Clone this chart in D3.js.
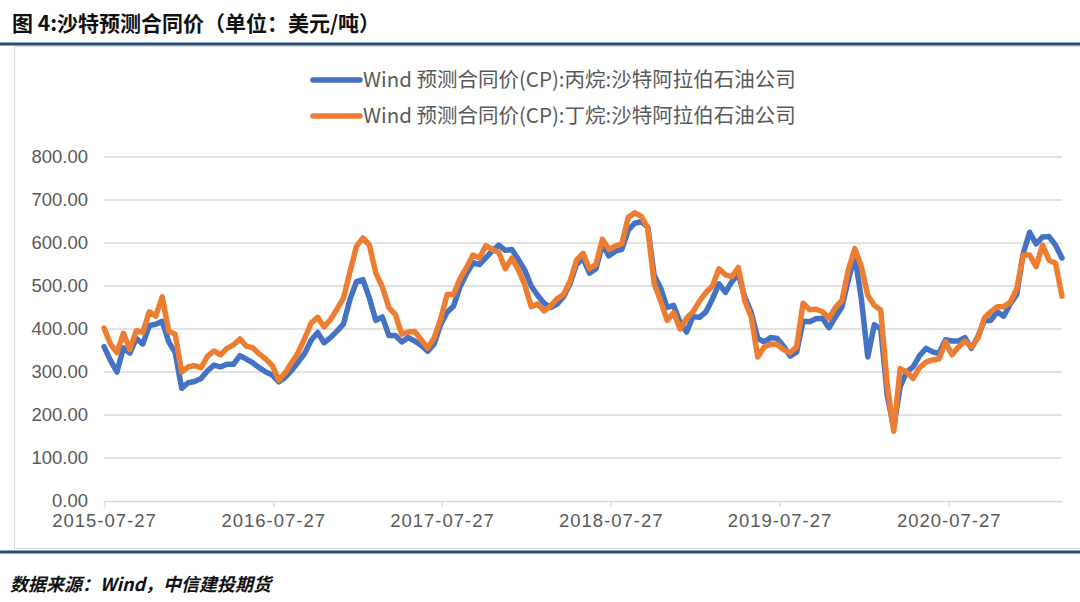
<!DOCTYPE html>
<html>
<head>
<meta charset="utf-8">
<script src="https://cdn.jsdelivr.net/npm/d3@7"></script>
<style>
  body { margin: 0; background: #fff; }
  svg { display: block; font-family: "Noto Sans CJK SC", "Noto Sans", sans-serif; }
</style>
</head>
<body>
<svg id="canvas"></svg>
<script>
const WIDTH = 1080;
const HEIGHT = 602;

const title = "图 4:沙特预测合同价（单位：美元/吨）";
const source = "数据来源：Wind，中信建投期货";
const seriesNames = [
  "Wind 预测合同价(CP):丙烷:沙特阿拉伯石油公司",
  "Wind 预测合同价(CP):丁烷:沙特阿拉伯石油公司",
];
const seriesColors = ["#4472C4", "#ED7D31"];

const xTickDates = ["2015-07-27", "2016-07-27", "2017-07-27", "2018-07-27", "2019-07-27", "2020-07-27"];
const yTicks = [0, 100, 200, 300, 400, 500, 600, 700, 800];

// biweekly readings
const dates = [
  "2015-07-27","2015-08-10","2015-08-24","2015-09-07","2015-09-21","2015-10-05","2015-10-19","2015-11-02","2015-11-16","2015-11-30",
  "2015-12-14","2015-12-28","2016-01-11","2016-01-25","2016-02-08","2016-02-22","2016-03-07","2016-03-21","2016-04-04","2016-04-18",
  "2016-05-02","2016-05-16","2016-05-30","2016-06-13","2016-06-27","2016-07-11","2016-07-25","2016-08-08","2016-08-22","2016-09-05",
  "2016-09-19","2016-10-03","2016-10-17","2016-10-31","2016-11-14","2016-11-28","2016-12-12","2016-12-26","2017-01-09","2017-01-23",
  "2017-02-06","2017-02-20","2017-03-06","2017-03-20","2017-04-03","2017-04-17","2017-05-01","2017-05-15","2017-05-29","2017-06-12",
  "2017-06-26","2017-07-10","2017-07-24","2017-08-07","2017-08-21","2017-09-04","2017-09-18","2017-10-02","2017-10-16","2017-10-30",
  "2017-11-13","2017-11-27","2017-12-11","2017-12-25","2018-01-08","2018-01-22","2018-02-05","2018-02-19","2018-03-05","2018-03-19",
  "2018-04-02","2018-04-16","2018-04-30","2018-05-14","2018-05-28","2018-06-11","2018-06-25","2018-07-09","2018-07-23","2018-08-06",
  "2018-08-20","2018-09-03","2018-09-17","2018-10-01","2018-10-15","2018-10-29","2018-11-12","2018-11-26","2018-12-10","2018-12-24",
  "2019-01-07","2019-01-21","2019-02-04","2019-02-18","2019-03-04","2019-03-18","2019-04-01","2019-04-15","2019-04-29","2019-05-13",
  "2019-05-27","2019-06-10","2019-06-24","2019-07-08","2019-07-22","2019-08-05","2019-08-19","2019-09-02","2019-09-16","2019-09-30",
  "2019-10-14","2019-10-28","2019-11-11","2019-11-25","2019-12-09","2019-12-23","2020-01-06","2020-01-20","2020-02-03","2020-02-17",
  "2020-03-02","2020-03-16","2020-03-30","2020-04-13","2020-04-27","2020-05-11","2020-05-25","2020-06-08","2020-06-22","2020-07-06",
  "2020-07-20","2020-08-03","2020-08-17","2020-08-31","2020-09-14","2020-09-28","2020-10-12","2020-10-26","2020-11-09","2020-11-23",
  "2020-12-07","2020-12-21","2021-01-04","2021-01-18","2021-02-01","2021-02-15","2021-03-01","2021-03-15","2021-03-29",
];

const propane = [
  359,327,300,356,344,378,365,408,411,418,
  370,345,262,275,278,285,303,316,312,318,
  318,338,330,321,310,300,293,277,288,304,
  323,343,374,392,368,380,395,412,469,510,
  515,472,420,428,385,385,370,380,372,362,
  348,365,410,439,453,498,528,554,550,566,
  582,595,583,585,562,537,500,478,460,450,
  458,475,505,550,565,530,540,597,570,581,
  585,630,646,650,637,525,495,450,455,415,
  393,429,427,440,470,505,485,510,528,474,
  438,378,370,380,378,360,337,346,418,417,
  424,425,403,428,451,515,570,470,335,410,
  400,246,170,266,300,312,338,355,347,343,
  375,372,372,380,355,382,420,420,440,430,
  458,480,575,625,598,614,615,595,565,
];

const butane = [
  402,365,345,390,352,396,392,440,430,475,
  395,388,300,312,315,310,337,349,340,355,
  363,377,360,356,342,330,315,281,298,322,
  345,378,414,427,405,422,446,472,533,592,
  612,595,530,498,450,434,388,393,394,375,
  356,379,423,480,480,517,543,572,565,594,
  585,578,540,565,538,503,452,458,442,454,
  470,480,511,560,576,540,550,609,585,593,
  598,660,670,662,635,505,465,420,438,400,
  425,440,465,485,500,540,526,522,543,465,
  428,335,358,365,364,352,345,358,460,445,
  446,440,425,450,466,538,587,545,478,455,
  444,270,162,308,300,285,310,323,328,330,
  370,340,358,372,358,378,425,440,452,452,
  462,493,572,572,545,595,560,553,476,
];

const parseDate = d3.timeParse("%Y-%m-%d");
const formatDate = d3.timeFormat("%Y-%m-%d");

const LEFT = 104;
const RIGHT = 1062;
const TOP = 157;
const BOTTOM = 501;

const canvas = d3.select("#canvas").attr("width", WIDTH).attr("height", HEIGHT);

const xScale = d3.scaleTime()
  .domain([parseDate(dates[0]), parseDate(dates[dates.length - 1])])
  .range([LEFT, RIGHT]);
const yScale = d3.scaleLinear().domain([0, 800]).range([BOTTOM, TOP]);

// title + rules
canvas.append("text")
  .attr("x", 12).attr("y", 31)
  .attr("font-size", 21).attr("font-weight", 700).attr("fill", "#111")
  .text(title);

canvas.append("rect")
  .attr("x", 14.5).attr("y", 46.5).attr("width", 1070).attr("height", 502)
  .attr("fill", "none").attr("stroke", "#d9d9d9");

canvas.append("line")
  .attr("x1", 0).attr("x2", WIDTH).attr("y1", 44).attr("y2", 44)
  .attr("stroke", "#1f4e79").attr("stroke-width", 3);
canvas.append("line")
  .attr("x1", 0).attr("x2", WIDTH).attr("y1", 552).attr("y2", 552)
  .attr("stroke", "#1f4e79").attr("stroke-width", 3);

canvas.append("text")
  .attr("x", 10).attr("y", 591)
  .attr("font-size", 18).attr("font-weight", 700).attr("font-style", "italic").attr("fill", "#111")
  .text(source);

// gridlines
canvas.append("g")
  .selectAll("line")
  .data(yTicks.filter((d) => d > 0))
  .enter()
  .append("line")
  .attr("x1", LEFT).attr("x2", RIGHT)
  .attr("y1", (d) => yScale(d)).attr("y2", (d) => yScale(d))
  .attr("stroke", "#d9d9d9").attr("stroke-width", 1.3);

// axes
const yAxis = d3.axisLeft(yScale).tickValues(yTicks).tickFormat(d3.format(".2f")).tickSize(0).tickPadding(16);
const yG = canvas.append("g").attr("id", "y-axis").attr("transform", "translate(" + LEFT + ",0)").call(yAxis);
yG.select(".domain").remove();
yG.selectAll("text").attr("font-size", 18.5).attr("fill", "#595959").attr("font-family", "inherit");

const xAxis = d3.axisBottom(xScale)
  .tickValues(xTickDates.map(parseDate))
  .tickFormat(formatDate)
  .tickSizeInner(6).tickSizeOuter(0).tickPadding(7);
const xG = canvas.append("g").attr("id", "x-axis").attr("transform", "translate(0," + BOTTOM + ")").call(xAxis);
xG.select(".domain").attr("stroke", "#d9d9d9").attr("stroke-width", 1.3);
xG.selectAll(".tick line").attr("stroke", "#d9d9d9").attr("stroke-width", 1.3);
xG.selectAll("text").attr("font-size", 18.5).attr("fill", "#595959").attr("font-family", "inherit")
  .attr("letter-spacing", 1);

// lines
const series = [propane, butane];
const line = d3.line()
  .x((d, i) => xScale(parseDate(dates[i])))
  .y((d) => yScale(d));

canvas.append("g")
  .selectAll("path")
  .data(series)
  .enter()
  .append("path")
  .attr("d", (d) => line(d))
  .attr("fill", "none")
  .attr("stroke", (d, i) => seriesColors[i])
  .attr("stroke-width", 5.5)
  .attr("stroke-linejoin", "round")
  .attr("stroke-linecap", "round");

// legend
const legend = canvas.append("g")
  .selectAll("g")
  .data(seriesNames)
  .enter()
  .append("g")
  .attr("transform", (d, i) => "translate(313," + (80 + i * 36) + ")");
legend.append("line")
  .attr("x1", 0).attr("x2", 47).attr("y1", 0).attr("y2", 0)
  .attr("stroke", (d, i) => seriesColors[i]).attr("stroke-width", 5.5).attr("stroke-linecap", "round");
legend.append("text")
  .attr("x", 50).attr("y", 0).attr("dy", "0.35em")
  .attr("font-size", 20.5).attr("fill", "#595959")
  .text((d) => d);
</script>
</body>
</html>
